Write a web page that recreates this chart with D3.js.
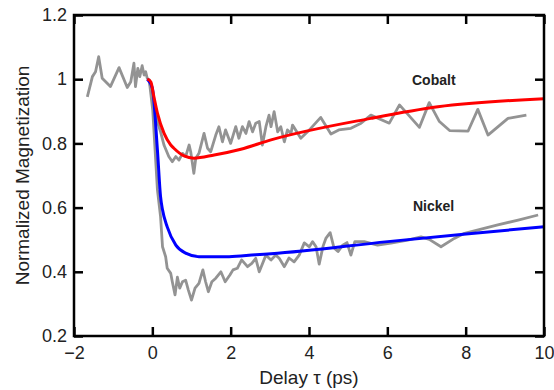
<!DOCTYPE html>
<html>
<head>
<meta charset="utf-8">
<script src="https://cdn.jsdelivr.net/npm/d3@7"></script>
<style>
  body { margin: 0; background: #fff; }
  svg text { font-family: "Liberation Sans", Arial, Helvetica, sans-serif; fill: #222; }
</style>
</head>
<body>
<div id="chart"></div>
<script>
// measured data (gray traces)
var cobaltTime = [-1.66,-1.53,-1.45,-1.37,-1.28,-1.07,-0.85,-0.64,-0.55,-0.47,-0.43,-0.37,-0.32,-0.26,-0.21,-0.17,-0.13,-0.08,
  0.08,0.21,0.30,0.42,0.51,0.60,0.68,0.77,0.85,0.94,0.98,1.06,1.11,1.19,1.32,1.41,1.49,1.62,1.70,1.79,1.87,2.00,2.13,2.21,2.30,2.39,2.47,2.56,2.64,2.73,2.81,2.90,2.98,3.03,3.11,3.20,3.28,3.37,3.45,3.54,3.58,3.79,4.01,4.30,4.56,4.76,5.07,5.33,5.58,6.05,6.31,6.82,7.07,7.33,7.59,8.06,8.31,8.57,9.08,9.55];
var cobaltData = [0.945,1.008,1.023,1.070,1.003,0.977,1.036,0.974,0.992,1.050,0.977,1.034,1.008,1.042,1.013,1.023,1.003,0.998,
  0.888,0.836,0.794,0.759,0.743,0.759,0.748,0.769,0.759,0.795,0.774,0.707,0.754,0.769,0.831,0.785,0.774,0.826,0.852,0.805,0.842,0.800,0.852,0.816,0.852,0.831,0.868,0.836,0.863,0.868,0.795,0.852,0.888,0.852,0.899,0.836,0.852,0.805,0.842,0.831,0.857,0.816,0.842,0.881,0.829,0.842,0.847,0.863,0.888,0.863,0.920,0.850,0.927,0.868,0.840,0.838,0.906,0.826,0.878,0.888];

var nickelTime = [-0.08,0.01,0.13,0.21,0.26,0.34,0.38,0.47,0.51,0.58,0.64,0.70,0.77,0.85,0.92,1.00,1.09,1.19,1.29,1.36,1.43,1.52,1.62,1.75,1.86,1.98,2.06,2.17,2.28,2.43,2.54,2.64,2.73,2.90,3.03,3.15,3.24,3.37,3.49,3.62,3.75,3.88,4.01,4.09,4.18,4.26,4.36,4.43,4.54,4.64,4.74,4.86,4.97,5.07,5.17,5.41,5.75,6.09,6.52,6.86,7.07,7.37,7.71,7.97,8.82,9.34,9.85];
var nickelData = [0.998,0.904,0.655,0.572,0.478,0.447,0.411,0.395,0.369,0.328,0.383,0.349,0.369,0.374,0.343,0.312,0.349,0.364,0.406,0.369,0.338,0.369,0.380,0.400,0.369,0.390,0.406,0.411,0.437,0.416,0.426,0.442,0.400,0.452,0.437,0.452,0.442,0.416,0.443,0.431,0.452,0.490,0.478,0.494,0.478,0.424,0.480,0.504,0.522,0.474,0.463,0.483,0.491,0.452,0.494,0.494,0.483,0.489,0.499,0.509,0.501,0.478,0.504,0.520,0.546,0.561,0.577];

// fitted curves
var cobaltFitTime = [-0.13,-0.04,0.04,0.13,0.30,0.47,0.55,0.81,1.06,1.58,2.26,3.03,5.58,7.29,10.0];
var cobaltFit = [1.0,0.992,0.945,0.894,0.831,0.795,0.785,0.761,0.754,0.764,0.782,0.811,0.878,0.914,0.939];
var nickelFitTime = [-0.13,0.0,0.13,0.21,0.26,0.38,0.60,0.85,1.19,1.96,2.64,3.03,6.01,8.01,10.0];
var nickelFit = [1.0,0.972,0.779,0.634,0.593,0.540,0.483,0.458,0.447,0.447,0.453,0.456,0.494,0.518,0.540];

var xTicks = [-2, 0, 2, 4, 6, 8, 10];
var yTicks = [0.2, 0.4, 0.6, 0.8, 1, 1.2];

var width = 554, height = 390;
var margin = {left: 74, right: 10, top: 15, bottom: 54};

var svg = d3.select("#chart").append("svg")
  .attr("width", width)
  .attr("height", height);

var x = d3.scaleLinear().domain([-2, 10]).range([margin.left, width - margin.right]);
var y = d3.scaleLinear().domain([0.2, 1.2]).range([height - margin.bottom, margin.top]);

function pairs(t, v) { return t.map(function(d, i) { return [d, v[i]]; }); }

var line = d3.line()
  .x(d => x(d[0]))
  .y(d => y(d[1]));

var fitLine = d3.line()
  .x(d => x(d[0]))
  .y(d => y(d[1]))
  .curve(d3.curveMonotoneX);

/* gray data */
svg.append("path").attr("d", line(pairs(cobaltTime, cobaltData)))
  .attr("fill", "none").attr("stroke", "#939393").attr("stroke-width", 2.8).attr("stroke-linejoin", "round");
svg.append("path").attr("d", line(pairs(nickelTime, nickelData)))
  .attr("fill", "none").attr("stroke", "#939393").attr("stroke-width", 2.8).attr("stroke-linejoin", "round");

/* fits */
svg.append("path").attr("d", fitLine(pairs(nickelFitTime, nickelFit)))
  .attr("fill", "none").attr("stroke", "#0000ff").attr("stroke-width", 3);
svg.append("path").attr("d", fitLine(pairs(cobaltFitTime, cobaltFit)))
  .attr("fill", "none").attr("stroke", "#ff0000").attr("stroke-width", 3);

/* axes, ticks inside on all sides */
var tl = 9;
var fmt = d => (d < 0 ? "\u2212" + Math.abs(d) : d3.format("")(d));

svg.append("g")
  .attr("transform", `translate(0,${y(0.2)})`)
  .call(d3.axisBottom(x).tickValues(xTicks).tickSizeInner(-tl).tickSizeOuter(0).tickPadding(10).tickFormat(fmt))
  .call(g => g.select(".domain").remove());
svg.append("g")
  .attr("transform", `translate(0,${y(1.2)})`)
  .call(d3.axisTop(x).tickValues(xTicks).tickSizeInner(-tl).tickSizeOuter(0).tickFormat(""))
  .call(g => g.select(".domain").remove());
svg.append("g")
  .attr("transform", `translate(${x(-2)},0)`)
  .call(d3.axisLeft(y).tickValues(yTicks).tickSizeInner(-tl).tickSizeOuter(0).tickPadding(7).tickFormat(d => String(d)))
  .call(g => g.select(".domain").remove());
svg.append("g")
  .attr("transform", `translate(${x(10)},0)`)
  .call(d3.axisRight(y).tickValues(yTicks).tickSizeInner(-tl).tickSizeOuter(0).tickFormat(""))
  .call(g => g.select(".domain").remove());

svg.selectAll(".tick line").attr("stroke", "#000").attr("stroke-width", 2.5);
svg.selectAll(".tick text").style("font-size", "18px").attr("fill", "#222");

svg.append("rect")
  .attr("x", x(-2)).attr("y", y(1.2))
  .attr("width", x(10) - x(-2)).attr("height", y(0.2) - y(1.2))
  .attr("fill", "none").attr("stroke", "#000").attr("stroke-width", 2.5);

/* labels */
svg.append("text").attr("x", (x(-2) + x(10)) / 2).attr("y", 384)
  .attr("text-anchor", "middle").style("font-size", "19px").text("Delay \u03c4 (ps)");
svg.append("text").attr("transform", `translate(29,${(y(0.2) + y(1.2)) / 2}) rotate(-90)`)
  .attr("text-anchor", "middle").style("font-size", "19px").text("Normalized Magnetization");

svg.append("text").attr("x", 412).attr("y", 85).style("font-size", "14px").style("font-weight", "bold").text("Cobalt");
svg.append("text").attr("x", 413).attr("y", 211).style("font-size", "14px").style("font-weight", "bold").text("Nickel");
</script>
</body>
</html>
